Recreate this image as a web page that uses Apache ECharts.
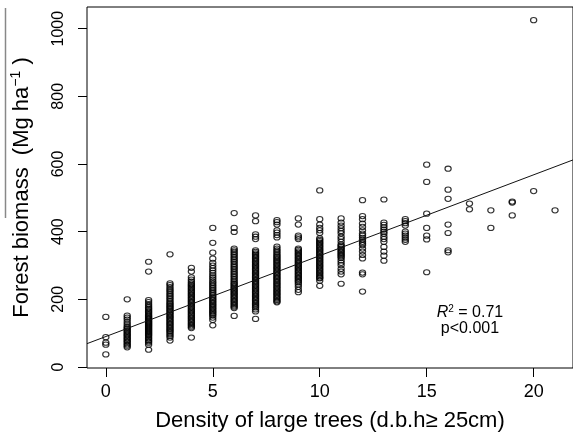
<!DOCTYPE html>
<html><head><meta charset="utf-8">
<script src="https://cdn.jsdelivr.net/npm/echarts@6/dist/echarts.min.js"></script>
<style>html,body{margin:0;padding:0;background:#fff}#c{width:573px;height:437px}</style>
</head><body><div id="c"></div>
<script>
// Density of large trees (x) and forest biomass values (y) per density class
const densities = [0,1,2,3,4,5,6,7,8,9,10,11,12,13,14,15,16,17,18,19,20,21];
const biomassD0 = [148, 88, 72, 66, 37];
const biomassD1 = [200, 152, 146, 140, 133, 126, 120, 116, 112, 108, 104, 100, 96, 92, 88, 84, 80, 76, 72, 67, 63, 58];
const biomassD2 = [311, 282, 198, 192, 186, 181, 176, 172, 168, 164, 160, 156, 152, 149, 146, 143, 140, 137, 134, 131, 128, 125, 122, 119, 116, 113, 110, 107, 104, 101, 98, 95, 92, 88, 84, 80, 76, 72, 66, 51];
const biomassD3 = [333, 247, 242, 236, 230, 225, 220, 215, 210, 205, 200, 195, 190, 186, 182, 178, 174, 170, 166, 162, 158, 154, 150, 146, 142, 138, 134, 130, 126, 122, 118, 114, 110, 106, 102, 97, 92, 87, 78];
const biomassD4 = [293, 282, 265, 258, 252, 247, 243, 239, 235, 231, 227, 223, 219, 215, 211, 207, 203, 199, 195, 191, 187, 183, 179, 175, 171, 167, 163, 159, 155, 151, 147, 143, 139, 135, 131, 127, 123, 119, 115, 87];
const biomassD5 = [411, 367, 338, 320, 308, 300, 292, 285, 278, 271, 265, 259, 253, 248, 243, 238, 233, 228, 223, 218, 213, 208, 204, 200, 196, 192, 188, 184, 180, 176, 172, 168, 164, 160, 156, 152, 146, 139, 123];
const biomassD6 = [455, 411, 399, 350, 345, 340, 335, 330, 325, 320, 315, 310, 305, 300, 295, 290, 285, 280, 275, 270, 265, 260, 255, 250, 246, 242, 238, 234, 230, 226, 222, 218, 214, 210, 206, 202, 198, 194, 190, 186, 182, 178, 174, 151];
const biomassD7 = [448, 431, 392, 385, 378, 345, 340, 336, 332, 328, 324, 320, 316, 312, 308, 304, 300, 296, 292, 288, 284, 280, 276, 272, 268, 264, 260, 256, 252, 248, 244, 240, 236, 232, 228, 224, 220, 216, 212, 208, 204, 200, 196, 192, 188, 184, 180, 176, 170, 164, 142];
const biomassD8 = [434, 428, 421, 404, 397, 390, 383, 356, 350, 345, 340, 335, 330, 326, 322, 318, 314, 310, 306, 302, 298, 294, 290, 286, 282, 278, 274, 270, 266, 262, 258, 254, 250, 246, 242, 238, 234, 230, 226, 222, 218, 214, 210, 206, 202, 198, 194, 191];
const biomassD9 = [439, 421, 388, 383, 378, 350, 346, 342, 338, 334, 330, 326, 322, 318, 314, 310, 306, 302, 298, 294, 290, 286, 282, 278, 274, 270, 266, 262, 258, 254, 250, 244, 237, 228, 221];
const biomassD10 = [522, 437, 421, 411, 404, 396, 380, 376, 372, 368, 364, 360, 356, 352, 348, 344, 340, 336, 332, 328, 324, 320, 316, 312, 308, 304, 300, 296, 292, 288, 284, 280, 276, 272, 268, 264, 262, 255, 240];
const biomassD11 = [439, 427, 418, 410, 402, 395, 385, 378, 370, 362, 358, 354, 350, 346, 342, 338, 334, 330, 326, 322, 315, 308, 301, 290, 282, 274, 246];
const biomassD12 = [493, 446, 437, 424, 414, 404, 394, 388, 382, 376, 370, 365, 360, 350, 341, 331, 321, 279, 274, 223];
const biomassD13 = [495, 427, 420, 413, 406, 400, 394, 385, 378, 370, 355, 341, 329, 314];
const biomassD14 = [437, 431, 425, 418, 400, 394, 388, 382, 376, 370];
const biomassD15 = [598, 547, 453, 411, 388, 377, 280];
const biomassD16 = [586, 524, 497, 421, 396, 345, 339];
const biomassD17 = [483, 466];
const biomassD18 = [463, 411];
const biomassD19 = [489, 486, 448];
const biomassD20 = [1025, 520];
const biomassD21 = [463];
const biomassByDensity = [biomassD0, biomassD1, biomassD2, biomassD3, biomassD4, biomassD5, biomassD6, biomassD7, biomassD8, biomassD9, biomassD10, biomassD11, biomassD12, biomassD13, biomassD14, biomassD15, biomassD16, biomassD17, biomassD18, biomassD19, biomassD20, biomassD21];

const xTicks = [0, 5, 10, 15, 20];
const yTicks = [0, 200, 400, 600, 800, 1000];
// Fitted regression line: biomass = intercept + slope * density
const fitIntercept = 90;
const fitSlope = 23.9;
const statsR2 = '0.71';
const statsP = 'p<0.001';

const xMin = -0.88, xMax = 21.84, yMin = -3, yMax = 1064;

const points = [];
densities.forEach((d, i) => biomassByDensity[i].forEach(v => points.push([d, v])));
const fitLine = [[xMin, fitIntercept + fitSlope * xMin], [xMax, fitIntercept + fitSlope * xMax]];

const font = 'Liberation Sans, Arial, Helvetica, sans-serif';
const chart = echarts.init(document.getElementById('c'), null, {renderer: 'canvas'});
chart.setOption({
  animation: false,
  backgroundColor: '#fff',
  grid: {left: 87, top: 7, width: 488, height: 363, show: true, borderColor: '#000', borderWidth: 1, backgroundColor: 'transparent'},
  xAxis: {
    type: 'value', min: xMin, max: xMax,
    axisLine: {show: false, onZero: false},
    splitLine: {show: false},
    axisTick: {show: true, customValues: xTicks, length: 9, lineStyle: {color: '#000', width: 1}},
    axisLabel: {customValues: xTicks, color: '#000', fontSize: 18, fontFamily: font, margin: 15, formatter: v => String(v)},
    name: 'Density of large trees (d.b.h\u2265 25cm)',
    nameLocation: 'middle', nameGap: 42,
    nameTextStyle: {color: '#000', fontSize: 22, fontFamily: font}
  },
  yAxis: {
    type: 'value', min: yMin, max: yMax,
    axisLine: {show: false, onZero: false},
    splitLine: {show: false},
    axisTick: {show: true, customValues: yTicks, length: 9, lineStyle: {color: '#000', width: 1}},
    axisLabel: {customValues: yTicks, color: '#000', fontSize: 16, fontFamily: font, rotate: 90, margin: 20, formatter: v => String(v)},
    name: '{n|Forest biomass  (Mg ha}{s|\u22121}{n| )}',
    nameLocation: 'middle', nameGap: 52, nameRotate: 90,
    nameTextStyle: {
      color: '#000', fontFamily: font,
      rich: {
        n: {fontSize: 22, fontFamily: font, color: '#000', lineHeight: 26},
        s: {fontSize: 14, fontFamily: font, color: '#000', verticalAlign: 'top', lineHeight: 26}
      }
    }
  },
  series: [
    {
      type: 'scatter', data: points,
      symbol: 'circle', symbolSize: [6.2, 5.2],
      itemStyle: {color: 'rgba(255,255,255,0)', borderColor: '#000', borderWidth: 1.1},
      emphasis: {disabled: true}, z: 2
    },
    {
      type: 'line', data: fitLine, symbol: 'none', clip: true,
      lineStyle: {color: '#111', width: 1}, z: 3
    }
  ],
  graphic: [
    {type: 'line', shape: {x1: 5.5, y1: 8, x2: 5.5, y2: 218}, style: {stroke: '#888', lineWidth: 1.5}},
    {type: 'text', x: 470, y: 313, style: {
      text: '{i|R}{s|2}{n| = ' + statsR2 + '}', align: 'center', verticalAlign: 'middle',
      rich: {
        i: {fontSize: 16, fontStyle: 'italic', fontFamily: font, fill: '#000', lineHeight: 18},
        s: {fontSize: 10, fontFamily: font, fill: '#000', verticalAlign: 'top', lineHeight: 18},
        n: {fontSize: 16, fontFamily: font, fill: '#000', lineHeight: 18}
      }
    }},
    {type: 'text', x: 470, y: 329, style: {text: statsP, fontSize: 16, fontFamily: font, fill: '#000', align: 'center', verticalAlign: 'middle'}}
  ]
});
</script>
</body></html>
